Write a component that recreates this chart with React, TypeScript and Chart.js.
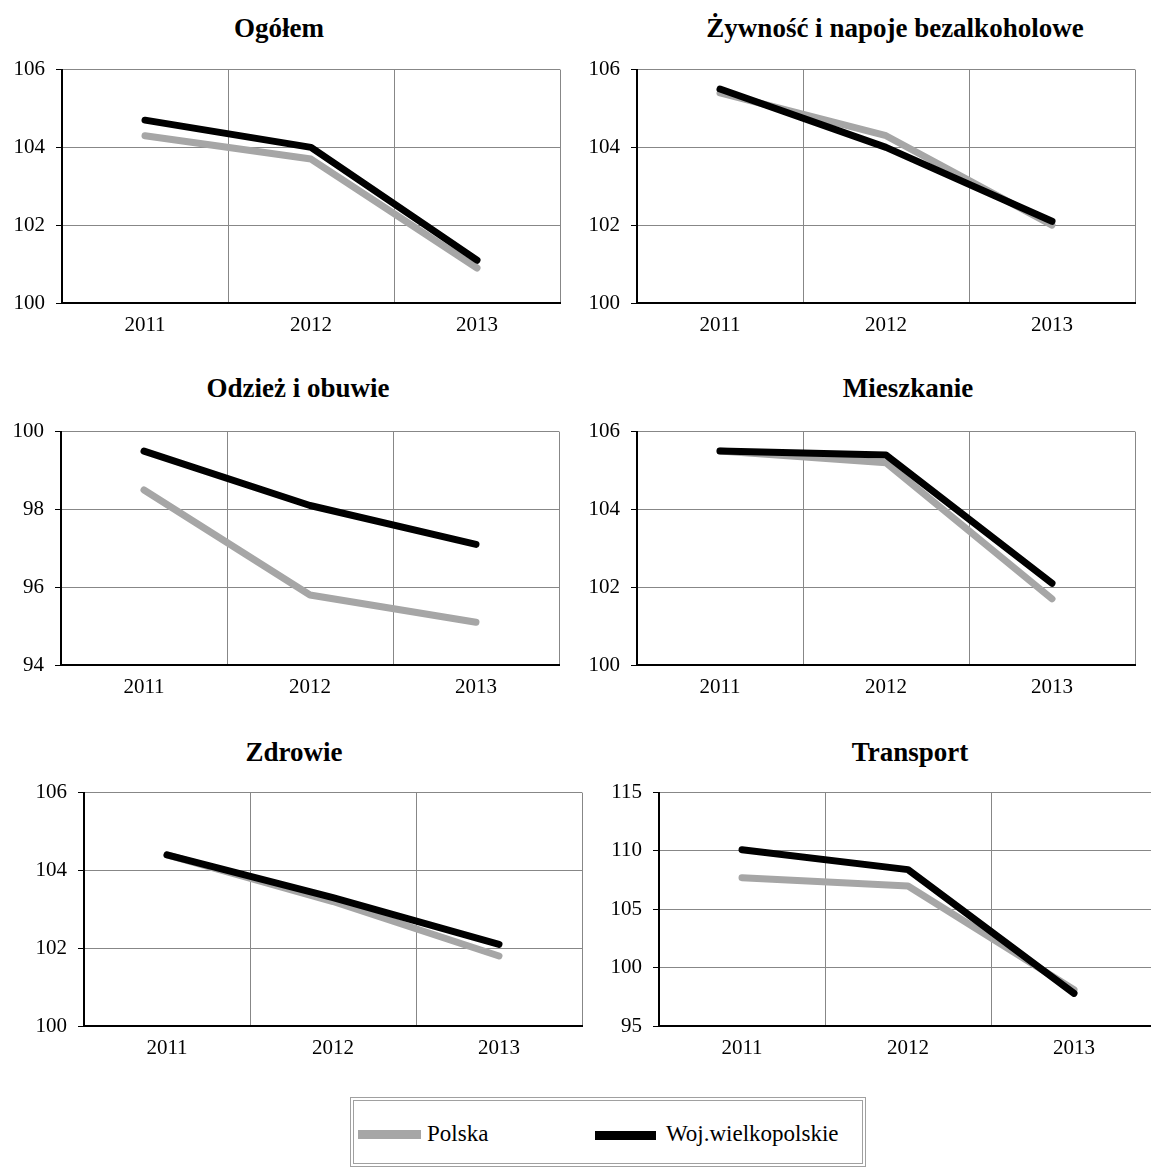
import React, { useEffect, useRef } from 'react';
import { Chart, registerables } from 'chart.js';

Chart.register(...registerables);

// ---------- DATA ----------
const years = ['2011', '2012', '2013'];
const seriesNames = ['Polska', 'Woj.wielkopolskie'];
const titles = [
  'Ogółem',
  'Żywność i napoje bezalkoholowe',
  'Odzież i obuwie',
  'Mieszkanie',
  'Zdrowie',
  'Transport',
];

const ogolemPolska = [104.3, 103.7, 100.9];
const ogolemWlkp = [104.7, 104.0, 101.1];
const zywnoscPolska = [105.4, 104.3, 102.0];
const zywnoscWlkp = [105.5, 104.0, 102.1];
const odziezPolska = [98.5, 95.8, 95.1];
const odziezWlkp = [99.5, 98.1, 97.1];
const mieszkaniePolska = [105.5, 105.2, 101.7];
const mieszkanieWlkp = [105.5, 105.4, 102.1];
const zdrowiePolska = [104.4, 103.2, 101.8];
const zdrowieWlkp = [104.4, 103.3, 102.1];
const transportPolska = [107.7, 107.0, 98.1];
const transportWlkp = [110.1, 108.4, 97.8];

const polskaSeries = [ogolemPolska, zywnoscPolska, odziezPolska, mieszkaniePolska, zdrowiePolska, transportPolska];
const wlkpSeries = [ogolemWlkp, zywnoscWlkp, odziezWlkp, mieszkanieWlkp, zdrowieWlkp, transportWlkp];

const axisMin = [100, 100, 94, 100, 100, 95];
const axisMax = [106, 106, 100, 106, 106, 115];
const axisStep = [2, 2, 2, 2, 2, 5];

// ---------- LAYOUT / STYLE ----------
const FONT = '"Liberation Serif", "Times New Roman", serif';
const GRID = '#878787';
const GRAY_LINE = '#a6a6a6';
const BLACK_LINE = '#000000';
const LINE_W = 7;

const panels = [
  { plotL: 62, plotR: 560, plotT: 66, plotB: 303, titleX: 279, titleY: 28 },
  { plotL: 637, plotR: 1135, plotT: 66, plotB: 303, titleX: 895, titleY: 28 },
  { plotL: 61, plotR: 559, plotT: 428, plotB: 665, titleX: 298, titleY: 388 },
  { plotL: 637, plotR: 1135, plotT: 428, plotB: 665, titleX: 908, titleY: 388 },
  { plotL: 84, plotR: 582, plotT: 789, plotB: 1026, titleX: 294, titleY: 752 },
  { plotL: 659, plotR: 1157, plotT: 789, plotB: 1026, titleX: 910, titleY: 752 },
];

const Y_W = 70;
const X_H = 40;
const PAD_T = 20;
const PAD_R = 4;

function Panel({ idx }: { idx: number }) {
  const ref = useRef<HTMLCanvasElement | null>(null);
  const p = panels[idx];
  const cL = p.plotL - Y_W;
  const cT = p.plotT - PAD_T;
  const W = p.plotR - cL + PAD_R;
  const H = p.plotB - cT + X_H;

  useEffect(() => {
    if (!ref.current) return;
    const chart = new Chart(ref.current, {
      type: 'line',
      data: {
        labels: years,
        datasets: [
          {
            label: seriesNames[0],
            data: polskaSeries[idx],
            borderColor: GRAY_LINE,
            backgroundColor: GRAY_LINE,
            borderWidth: LINE_W,
            pointRadius: 0,
            borderCapStyle: 'round',
            borderJoinStyle: 'round',
            tension: 0,
            fill: false,
            order: 2,
          },
          {
            label: seriesNames[1],
            data: wlkpSeries[idx],
            borderColor: BLACK_LINE,
            backgroundColor: BLACK_LINE,
            borderWidth: LINE_W,
            pointRadius: 0,
            borderCapStyle: 'round',
            borderJoinStyle: 'round',
            tension: 0,
            fill: false,
            order: 1,
          },
        ],
      },
      options: {
        animation: false,
        responsive: false,
        devicePixelRatio: 1,
        events: [],
        layout: { padding: { top: PAD_T, right: PAD_R, bottom: 0, left: 0 } },
        plugins: {
          legend: { display: false },
          title: { display: false },
          tooltip: { enabled: false },
        },
        scales: {
          x: {
            type: 'category',
            offset: true,
            grid: { offset: true, color: GRID, lineWidth: 1, drawTicks: false, tickLength: 0 },
            border: { color: '#000', width: 2, z: 1 },
            ticks: {
              color: '#000',
              font: { size: 21, family: FONT },
              padding: 10,
              maxRotation: 0,
              autoSkip: false,
            },
            afterFit: (s: any) => {
              s.height = X_H;
            },
          },
          y: {
            min: axisMin[idx],
            max: axisMax[idx],
            ticks: {
              stepSize: axisStep[idx],
              color: '#000',
              font: { size: 21, family: FONT },
              padding: 11,
            },
            grid: { color: GRID, lineWidth: 1, tickColor: '#000', tickLength: 6, drawTicks: true },
            border: { color: '#000', width: 2, z: 1 },
            afterFit: (s: any) => {
              s.width = Y_W;
            },
          },
        },
      },
    } as any);
    return () => chart.destroy();
  }, [idx]);

  return (
    <>
      <canvas
        ref={ref}
        width={W}
        height={H}
        style={{ position: 'absolute', left: cL, top: cT, width: W, height: H }}
      />
      <div
        style={{
          position: 'absolute',
          left: p.titleX - 300,
          top: p.titleY - 16,
          width: 600,
          textAlign: 'center',
          font: `bold 27px ${FONT}`,
          lineHeight: '32px',
          whiteSpace: 'nowrap',
          color: '#000',
        }}
      >
        {titles[idx]}
      </div>
    </>
  );
}

export default function App() {
  const legendText = { position: 'absolute' as const, top: 1118, font: `23px ${FONT}`, lineHeight: '32px', color: '#000', whiteSpace: 'nowrap' as const };
  return (
    <div
      style={{
        position: 'absolute',
        left: 0,
        top: 0,
        width: 1151,
        height: 1169,
        overflow: 'hidden',
        background: '#fff',
      }}
    >
      {panels.map((_, i) => (
        <Panel key={i} idx={i} />
      ))}
      <div
        style={{
          position: 'absolute',
          left: 350,
          top: 1097,
          width: 516,
          height: 70,
          boxSizing: 'border-box',
          border: '4px double #a0a0a0',
        }}
      />
      <div style={{ position: 'absolute', left: 358, top: 1130, width: 63, height: 9, background: GRAY_LINE }} />
      <div style={{ ...legendText, left: 427 }}>{seriesNames[0]}</div>
      <div style={{ position: 'absolute', left: 595, top: 1131, width: 61, height: 9, background: BLACK_LINE }} />
      <div style={{ ...legendText, left: 666 }}>{seriesNames[1]}</div>
    </div>
  );
}
